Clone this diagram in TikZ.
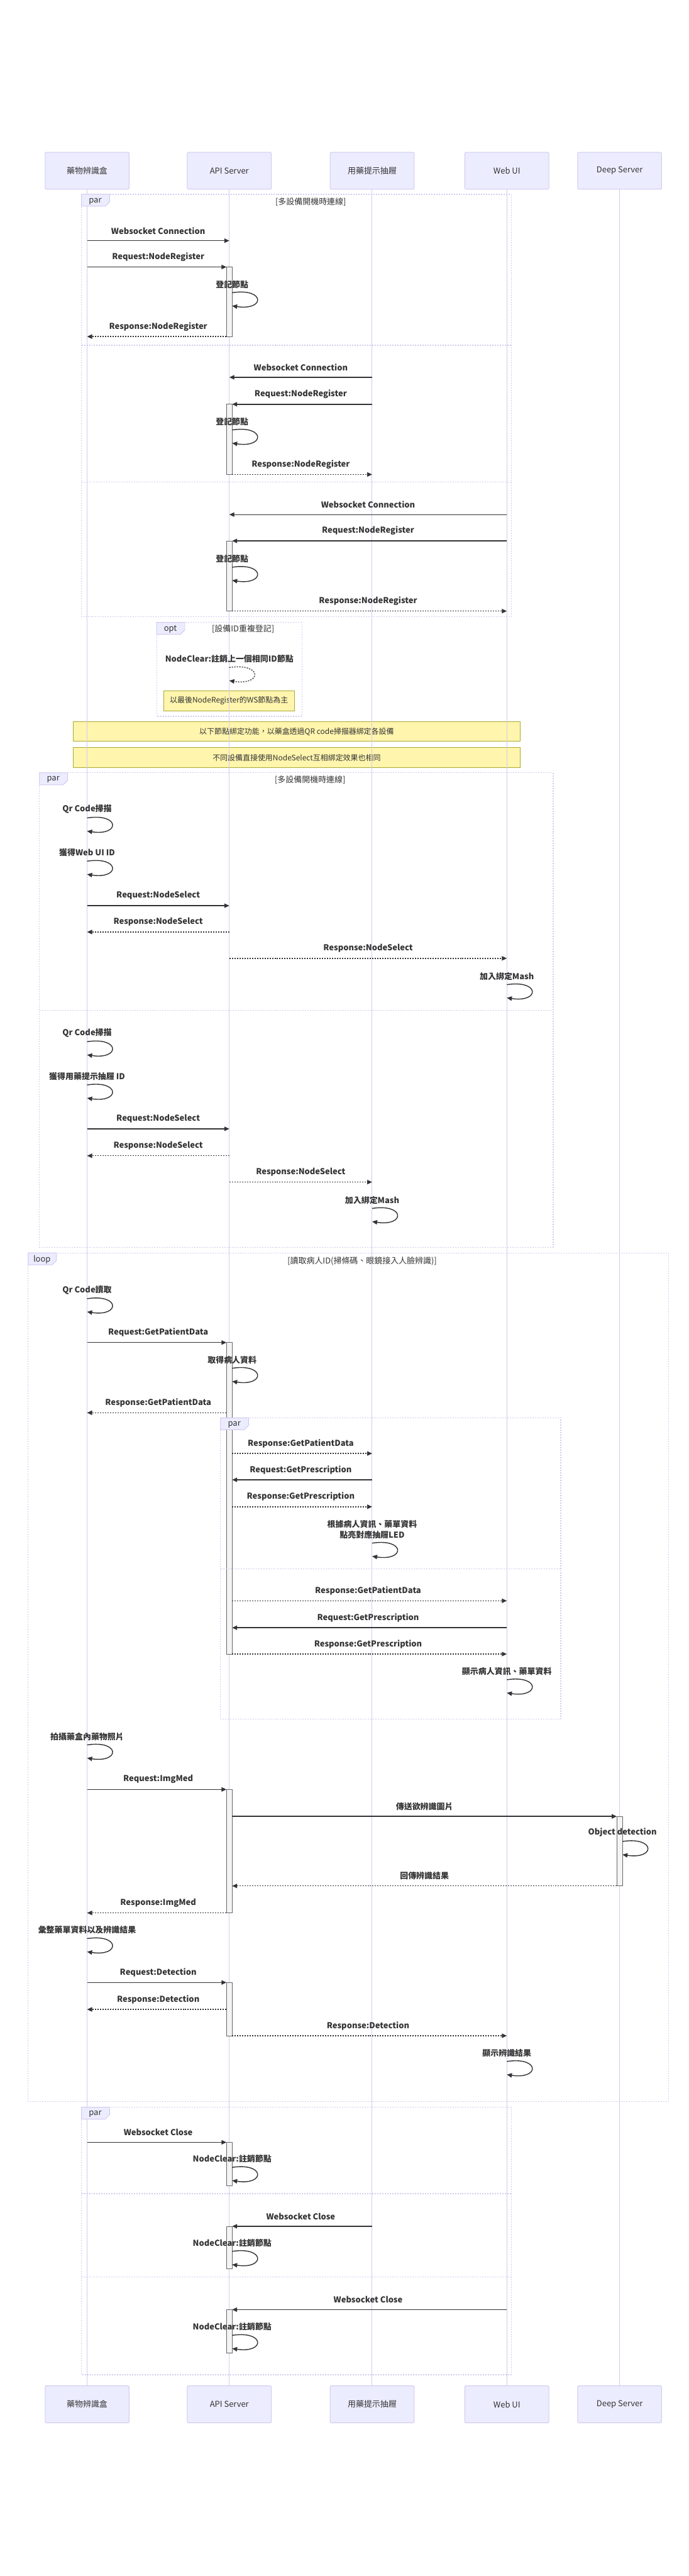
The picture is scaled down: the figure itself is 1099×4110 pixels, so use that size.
\documentclass[tikz,border=0pt]{standalone}
\usepackage{fontspec}
\setmainfont{Noto Sans CJK TC}
\usetikzlibrary{positioning, calc, arrows.meta}

\definecolor{ink}{HTML}{333333}
\definecolor{actorfill}{HTML}{ECECFF}
\definecolor{purpleline}{HTML}{D3CAEE}
\definecolor{notefill}{HTML}{FFF5AD}
\definecolor{noteline}{HTML}{AAAA33}
\definecolor{barfill}{HTML}{F4F4F4}
\definecolor{barline}{HTML}{666666}

\tikzset{
  actor/.style={draw=purpleline, fill=actorfill, line width=1pt, rounded corners=1.5pt,
    minimum width=134pt, minimum height=59pt, text=ink, font=\fontsize{13}{15}\selectfont},
  lifeline/.style={draw=purpleline, line width=1pt},
  frame/.style={draw=purpleline, line width=1.3pt, dash pattern=on 2pt off 2pt},
  tab/.style={draw=purpleline, fill=actorfill, line width=1pt},
  tabtext/.style={text=ink, font=\fontsize{13}{15}\selectfont},
  cond/.style={text=ink, font=\fontsize{13}{15}\selectfont},
  note/.style={draw=noteline, fill=notefill, line width=1pt, minimum height=32pt,
    text=ink, font=\fontsize{12}{14}\selectfont},
  actbox/.style={draw=barline, fill=barfill, line width=0.8pt},
  msgline/.style={draw=ink, line width=1.4pt, -{Triangle[length=8pt,width=7pt]}},
  reply/.style={dash pattern=on 2pt off 2pt},
  toact/.style={shorten >=4.5pt},
  fromact/.style={shorten <=4.5pt},
  msgtext/.style={text=ink, inner sep=0pt, align=center, font=\fontsize{13}{17}\selectfont\bfseries}
}

% message between two lifelines at height y
\newcommand{\msg}[5][]{%
  \draw[msgline,#1] (#2 |- 0,#4) -- node[msgtext, midway, yshift=16pt]{#5} (#3 |- 0,#4);}
% message to self: [opts]{lifeline}{x offset}{y}{label}
\newcommand{\selfmsg}[5][]{%
  \coordinate (s) at ($(#2 |- 0,#4)+(#3,0)$);
  \draw[msgline,#1] (s) .. controls ($(s)+(53,-8)$) and ($(s)+(53,29)$) .. ($(s)+(0,21)$);
  \node[msgtext, anchor=south] at ($(s)+(0,-7)$) {#5};}
% activation bar
\newcommand{\actbar}[3]{%
  \draw[actbox] ($(#1 |- 0,#2)+(-4.5,0)$) rectangle ($(#1 |- 0,#3)+(4.5,0)$);}
% label tab of a frame
\newcommand{\frametab}[3]{%
  \draw[tab] (#1,#2) -- ++(45,0) -- ++(0,12) -- ++(-7,7) -- ++(-38,0) -- cycle;
  \node[tabtext] at ($(#1,#2)+(22,11)$) {#3};}

\begin{document}
\begin{tikzpicture}[x=1pt, y=-1pt]
\fill[white] (0,0) rectangle (1099,4110);

% participants
\node[actor] (box) at (139,272.5) {藥物辨識盒};
\node[actor] (api) [right=92pt of box] {API Server};
\node[actor] (drawer) [right=93pt of api] {用藥提示抽屜};
\node[actor] (web) [right=80pt of drawer] {Web UI};
\node[actor] (deep) [right=45pt of web] {Deep Server};

\node[actor] (boxB) at (139,3836) {藥物辨識盒};
\node[actor] (apiB) [right=92pt of boxB] {API Server};
\node[actor] (drawerB) [right=93pt of apiB] {用藥提示抽屜};
\node[actor] (webB) [right=80pt of drawerB] {Web UI};
\node[actor] (deepB) [right=45pt of webB] {Deep Server};

% notes
\node[note, minimum width=209pt] (n1) at (365.5,1118) {以最後NodeRegister的WS節點為主};
\node[note, minimum width=713pt] (n2) at (473.5,1167) {以下節點綁定功能，以藥盒透過QR code掃描器綁定各設備};
\node[note, minimum width=713pt] (n3) [below=9pt of n2] {不同設備直接使用NodeSelect互相綁定效果也相同};

% lifelines
\foreach \a/\b in {box/boxB, api/apiB, drawer/drawerB, web/webB, deep/deepB}
  \draw[lifeline] (\a.south) -- (\b.north);

% activations
\actbar{api}{426}{537}
\actbar{api}{645}{757}
\actbar{api}{863}{975}
\actbar{api}{2142}{2639}
\actbar{api}{2855}{3052}
\actbar{deep}{2898}{3009}
\actbar{api}{3163}{3248}
\actbar{api}{3418}{3487}
\actbar{api}{3552}{3620}
\actbar{api}{3685}{3754}

% frames
\draw[frame] (130,310) rectangle (816,984);
\draw[frame] (130,551) -- (816,551);
\draw[frame] (130,769) -- (816,769);
\frametab{130}{310}{par}
\node[cond] at (496,322) {[多設備開機時連線]};

\draw[frame] (250,993) rectangle (482,1143);
\frametab{250}{993}{opt}
\node[cond] at (388,1004) {[設備ID重複登記]};

\draw[frame] (63,1233) rectangle (883,1990);
\draw[frame] (63,1612) -- (883,1612);
\frametab{63}{1233}{par}
\node[cond] at (495,1244) {[多設備開機時連線]};

\draw[frame] (45,1999) rectangle (1067,3353);
\frametab{45}{1999}{loop}
\node[cond] at (578,2012) {[讀取病人ID(掃條碼、眼鏡接入人臉辨識)]};

\draw[frame] (352,2262) rectangle (895,2743);
\draw[frame] (352,2503) -- (895,2503);
\frametab{352}{2262}{par}

\draw[frame] (130,3362) rectangle (816,3789);
\draw[frame] (130,3500) -- (816,3500);
\draw[frame] (130,3633) -- (816,3633);
\frametab{130}{3362}{par}

% register
\msg{box}{api}{384}{Websocket Connection}
\msg[toact]{box}{api}{426}{Request:NodeRegister}
\selfmsg{api}{4.5}{467}{登記節點}
\msg[reply,fromact]{api}{box}{537}{Response:NodeRegister}
\msg{drawer}{api}{602}{Websocket Connection}
\msg[toact]{drawer}{api}{645}{Request:NodeRegister}
\selfmsg{api}{4.5}{686}{登記節點}
\msg[reply,fromact]{api}{drawer}{757}{Response:NodeRegister}
\msg{web}{api}{821}{Websocket Connection}
\msg[toact]{web}{api}{863}{Request:NodeRegister}
\selfmsg{api}{4.5}{905}{登記節點}
\msg[reply,fromact]{api}{web}{975}{Response:NodeRegister}
\selfmsg[reply]{api}{0}{1065}{NodeClear:註銷上一個相同ID節點}

% binding
\selfmsg{box}{0}{1305}{Qr Code掃描}
\selfmsg{box}{0}{1374}{獲得Web UI ID}
\msg{box}{api}{1445}{Request:NodeSelect}
\msg[reply]{api}{box}{1487}{Response:NodeSelect}
\msg[reply]{api}{web}{1529}{Response:NodeSelect}
\selfmsg{web}{0}{1571}{加入綁定Mash}
\selfmsg{box}{0}{1662}{Qr Code掃描}
\selfmsg{box}{0}{1731}{獲得用藥提示抽屜 ID}
\msg{box}{api}{1801}{Request:NodeSelect}
\msg[reply]{api}{box}{1844}{Response:NodeSelect}
\msg[reply]{api}{drawer}{1886}{Response:NodeSelect}
\selfmsg{drawer}{0}{1928}{加入綁定Mash}

% patient loop
\selfmsg{box}{0}{2072}{Qr Code讀取}
\msg[toact]{box}{api}{2142}{Request:GetPatientData}
\selfmsg{api}{4.5}{2183}{取得病人資料}
\msg[reply,fromact]{api}{box}{2254}{Response:GetPatientData}
\msg[reply,fromact]{api}{drawer}{2319}{Response:GetPatientData}
\msg[toact]{drawer}{api}{2361}{Request:GetPrescription}
\msg[reply,fromact]{api}{drawer}{2404}{Response:GetPrescription}
\selfmsg{drawer}{0}{2462}{根據病人資訊、藥單資料\\點亮對應抽屜LED}
\msg[reply,fromact]{api}{web}{2554}{Response:GetPatientData}
\msg[toact]{web}{api}{2597}{Request:GetPrescription}
\msg[reply,fromact]{api}{web}{2639}{Response:GetPrescription}
\selfmsg{web}{0}{2680}{顯示病人資訊、藥單資料}
\selfmsg{box}{0}{2784}{拍攝藥盒內藥物照片}
\msg[toact]{box}{api}{2855}{Request:ImgMed}
\msg[fromact,toact]{api}{deep}{2898}{傳送欲辨識圖片}
\selfmsg{deep}{4.5}{2938}{Object detection}
\msg[reply,fromact,toact]{deep}{api}{3009}{回傳辨識結果}
\msg[reply,fromact]{api}{box}{3052}{Response:ImgMed}
\selfmsg{box}{0}{3093}{彙整藥單資料以及辨識結果}
\msg[toact]{box}{api}{3163}{Request:Detection}
\msg[reply,fromact]{api}{box}{3206}{Response:Detection}
\msg[reply,fromact]{api}{web}{3248}{Response:Detection}
\selfmsg{web}{0}{3289}{顯示辨識結果}

% close
\msg[toact]{box}{api}{3418}{Websocket Close}
\selfmsg{api}{4.5}{3458}{NodeClear:註銷節點}
\msg[toact]{drawer}{api}{3552}{Websocket Close}
\selfmsg{api}{4.5}{3592}{NodeClear:註銷節點}
\msg[toact]{web}{api}{3685}{Websocket Close}
\selfmsg{api}{4.5}{3726}{NodeClear:註銷節點}
\end{tikzpicture}
\end{document}
